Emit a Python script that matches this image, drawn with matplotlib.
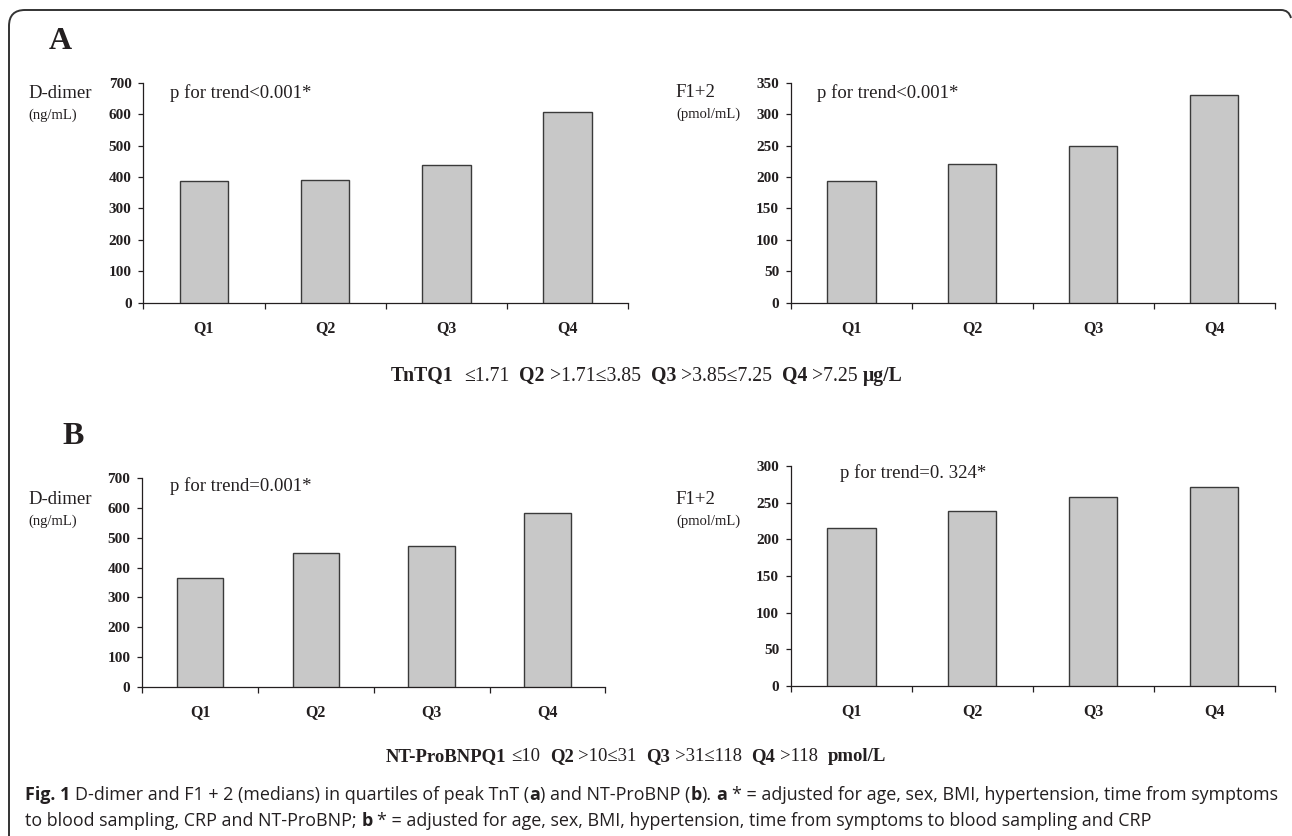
import numpy as np
import matplotlib
matplotlib.use("Agg")
import matplotlib.pyplot as plt
from matplotlib.transforms import IdentityTransform
from matplotlib.path import Path
from matplotlib.patches import PathPatch

# ---------------- data ----------------
categories = ["Q1", "Q2", "Q3", "Q4"]
tnt_ddimer = [386, 390, 440, 608]      # ng/mL
tnt_f12 = [194, 221, 250, 331]         # pmol/mL
bnp_ddimer = [364, 448, 471, 583]      # ng/mL
bnp_f12 = [215, 239, 258, 272]         # pmol/mL

p_tnt_ddimer = "p for trend<0.001*"
p_tnt_f12 = "p for trend<0.001*"
p_bnp_ddimer = "p for trend=0.001*"
p_bnp_f12 = "p for trend=0. 324*"

tnt_line = [("TnTQ1", "bold"), ("  \u22641.71  ", "normal"), ("Q2", "bold"),
            (" >1.71\u22643.85  ", "normal"), ("Q3", "bold"), (" >3.85\u22647.25  ", "normal"),
            ("Q4", "bold"), (" >7.25 ", "normal"), ("\u03bcg/L", "bold")]
bnp_line = [("NT-ProBNPQ1", "bold"), (" \u226410  ", "normal"), ("Q2", "bold"),
            (" >10\u226431  ", "normal"), ("Q3", "bold"), (" >31\u2264118  ", "normal"),
            ("Q4", "bold"), (" >118  ", "normal"), ("pmol/L", "bold")]
caption1 = [("Fig. 1", "bold"), (" D-dimer and F1 + 2 (medians) in quartiles of peak TnT (", "normal"),
            ("a", "bold"), (") and NT-ProBNP (", "normal"), ("b", "bold"), ("). ", "normal"),
            ("a", "bold"), (" * = adjusted for age, sex, BMI, hypertension, time from symptoms", "normal")]
caption2 = [("to blood sampling, CRP and NT-ProBNP; ", "normal"), ("b", "bold"),
            (" * = adjusted for age, sex, BMI, hypertension, time from symptoms to blood sampling and CRP", "normal")]

# ---------------- figure ----------------
W, H = 1292, 836
fig = plt.figure(figsize=(W / 100, H / 100), dpi=100)
fig.patch.set_facecolor("white")
renderer = fig.canvas.get_renderer()
TXT = "#231f20"
SERIF = ["Liberation Serif", "DejaVu Serif"]
CAPF = ["Liberation Sans Narrow", "Open Sans", "DejaVu Sans"]
ID = IdentityTransform()


def seg_width(s, size, family, weight):
    t = fig.text(0, 0, "|" + s + "|", fontsize=size, family=family, weight=weight, transform=ID)
    w1 = t.get_window_extent(renderer).width
    t.set_text("||")
    w2 = t.get_window_extent(renderer).width
    t.remove()
    return w1 - w2


def runs(segs, x, ybase, size, family, ha="left", fit=None):
    if fit is not None:
        tot = sum(seg_width(s, size, family, w) for s, w in segs)
        size = size * fit / tot
    widths = [seg_width(s, size, family, w) for s, w in segs]
    tot = sum(widths)
    cur = x - tot / 2 if ha == "center" else x
    for (s, w), wd in zip(segs, widths):
        lead = len(s) - len(s.lstrip(" "))
        lw = seg_width(" " * lead, size, family, w) if lead else 0
        fig.text(cur + lw, H - ybase, s.strip(" "), fontsize=size, family=family,
                 weight=w, color=TXT, transform=ID, ha="left", va="baseline")
        cur += wd
    return size


def ptext(x, y, s, size, weight="normal", family=SERIF, va="center"):
    fig.text(x, H - y, s, fontsize=size, family=family, weight=weight, color=TXT,
             transform=ID, ha="left", va=va)


def bar_panel(x0, x1, ytop, ybot, values, ymax, ystep):
    ax = fig.add_axes([x0 / W, 1 - ybot / H, (x1 - x0) / W, (ybot - ytop) / H])
    xs = np.arange(len(categories)) + 0.5
    ax.bar(xs, values, width=0.40, color="#c8c8c8", edgecolor="#3a3a3a", linewidth=1.0, zorder=3)
    ax.set_xlim(0, 4)
    ax.set_ylim(0, ymax)
    ax.set_yticks(np.arange(0, ymax + 1, ystep))
    ax.set_xticks(np.arange(5))
    ax.set_xticklabels([])
    ax.set_xticks(xs, minor=True)
    ax.set_xticklabels(categories, minor=True)
    for side in ("top", "right"):
        ax.spines[side].set_visible(False)
    for side in ("left", "bottom"):
        ax.spines[side].set_color(TXT)
        ax.spines[side].set_linewidth(0.9)
    ax.tick_params(axis="x", which="major", direction="out", length=4, width=0.9, color=TXT)
    ax.tick_params(axis="x", which="minor", length=0, pad=12.5)
    ax.tick_params(axis="y", direction="out", length=3.5, width=0.9, color=TXT, pad=5)
    for lbl in ax.get_yticklabels():
        lbl.set_fontfamily(SERIF)
        lbl.set_fontweight("bold")
        lbl.set_fontsize(11)
        lbl.set_color(TXT)
    for lbl in ax.get_xticklabels(minor=True):
        lbl.set_fontfamily(SERIF)
        lbl.set_fontweight("bold")
        lbl.set_fontsize(11.5)
        lbl.set_color(TXT)
    ax.set_facecolor("none")
    return ax


# Panel A
ptext(49, 49, "A", 23, weight="bold", va="baseline")
bar_panel(143.4, 628.1, 83, 302.5, tnt_ddimer, 700, 100)
ptext(28, 93, "D-dimer", 13.5)
ptext(28, 115, "(ng/mL)", 10.5)
ptext(170, 92.7, p_tnt_ddimer, 13.5)

bar_panel(790.9, 1274.5, 83, 302.5, tnt_f12, 350, 50)
ptext(675, 92.7, "F1+2", 13.5)
ptext(676, 114, "(pmol/mL)", 10.5)
ptext(817, 92.7, p_tnt_f12, 13.5)

runs(tnt_line, 647, 381, 12, SERIF, ha="center", fit=511)

# Panel B
ptext(62, 444, "B", 23, weight="bold", va="baseline")
bar_panel(142.2, 605.3, 478, 687, bnp_ddimer, 700, 100)
ptext(28, 500, "D-dimer", 13.5)
ptext(28, 521, "(ng/mL)", 10.5)
ptext(170, 486, p_bnp_ddimer, 13.5)

bar_panel(790.9, 1274.5, 466.3, 685.7, bnp_f12, 300, 50)
ptext(675, 500, "F1+2", 13.5)
ptext(676, 521, "(pmol/mL)", 10.5)
ptext(840.4, 472.7, p_bnp_f12, 13.5)

runs(bnp_line, 636, 761, 12, SERIF, ha="center", fit=498)

# Caption
csize = runs(caption1, 25, 800, 12, CAPF, fit=1251)
runs(caption2, 25, 826.5, csize, CAPF)

# Frame (rounded top-left corner, open bottom, cut at right)
r = 16
lx, ty = 9, 10
verts = [(lx, 0), (lx, H - (ty + r)), (lx, H - ty), (lx + r, H - ty),
         (1281, H - ty), (1289, H - ty), (1291, H - (ty + 8))]
codes = [Path.MOVETO, Path.LINETO, Path.CURVE3, Path.CURVE3, Path.LINETO, Path.CURVE3, Path.CURVE3]
frame = PathPatch(Path(verts, codes), facecolor="none", edgecolor="#333333",
                  linewidth=1.4, transform=ID)
fig.patches.append(frame)

fig.savefig("out.png", dpi=100, facecolor="white")
